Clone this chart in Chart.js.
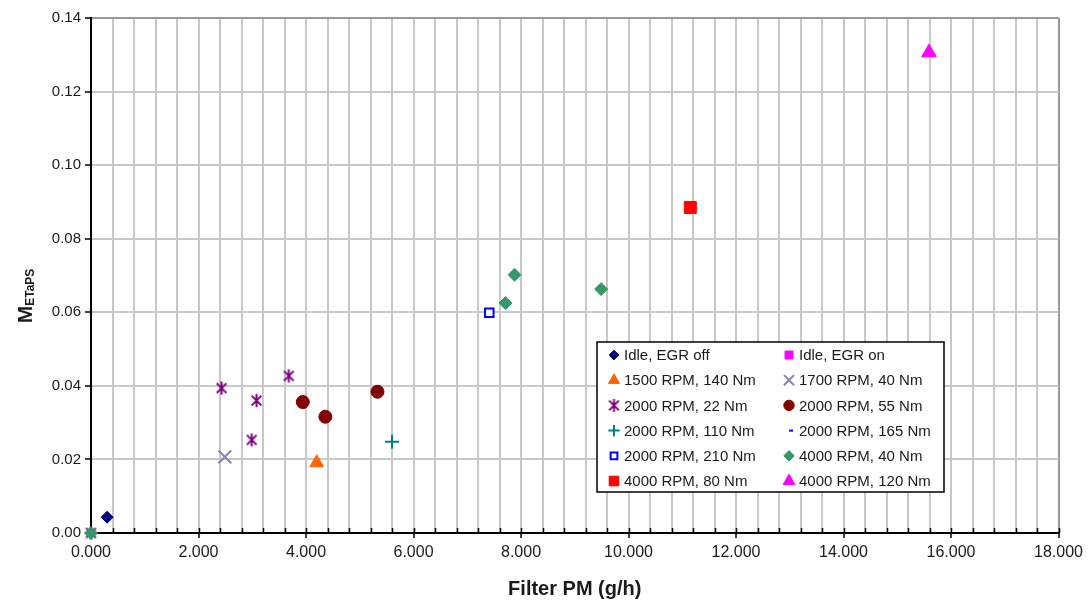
<!DOCTYPE html>
<html>
<head>
<meta charset="utf-8">
<script src="https://cdn.jsdelivr.net/npm/chart.js@4.4.1/dist/chart.umd.min.js"></script>
<style>
  html, body { margin: 0; padding: 0; background: #fff; }
  #wrap { position: relative; width: 1088px; height: 603px; }
</style>
</head>
<body>
<div id="wrap"><canvas id="pmChart" width="1088" height="603"></canvas></div>
<script>
// Filter PM (g/h) against METaPS, one series per operating point
const seriesLabels = [
  'Idle, EGR off', 'Idle, EGR on',
  '1500 RPM, 140 Nm', '1700 RPM, 40 Nm',
  '2000 RPM, 22 Nm', '2000 RPM, 55 Nm',
  '2000 RPM, 110 Nm', '2000 RPM, 165 Nm',
  '2000 RPM, 210 Nm', '4000 RPM, 40 Nm',
  '4000 RPM, 80 Nm', '4000 RPM, 120 Nm'
];

const idleOffPM = [0.30];
const idleOffM = [0.0043];
const idleOnPM = [];
const idleOnM = [];
const rpm1500t140PM = [4.20];
const rpm1500t140M = [0.0191];
const rpm1700t40PM = [2.49];
const rpm1700t40M = [0.0207];
const rpm2000t22PM = [0.00, 2.43, 3.08, 3.68, 2.99];
const rpm2000t22M = [0.0000, 0.0394, 0.0360, 0.0427, 0.0253];
const rpm2000t55PM = [3.94, 4.36, 5.33];
const rpm2000t55M = [0.0356, 0.0316, 0.0384];
const rpm2000t110PM = [5.60];
const rpm2000t110M = [0.0248];
const rpm2000t165PM = [];
const rpm2000t165M = [];
const rpm2000t210PM = [7.41];
const rpm2000t210M = [0.0599];
const rpm4000t40PM = [0.00, 7.71, 7.88, 9.49];
const rpm4000t40M = [0.0000, 0.0625, 0.0702, 0.0663];
const rpm4000t80PM = [11.15];
const rpm4000t80M = [0.0885];
const rpm4000t120PM = [15.59];
const rpm4000t120M = [0.1306];

const xMajorTicks = [0, 2, 4, 6, 8, 10, 12, 14, 16, 18];
const yTicks = [0, 0.02, 0.04, 0.06, 0.08, 0.10, 0.12, 0.14];

const seriesPM = [idleOffPM, idleOnPM, rpm1500t140PM, rpm1700t40PM, rpm2000t22PM, rpm2000t55PM,
  rpm2000t110PM, rpm2000t165PM, rpm2000t210PM, rpm4000t40PM, rpm4000t80PM, rpm4000t120PM];
const seriesM = [idleOffM, idleOnM, rpm1500t140M, rpm1700t40M, rpm2000t22M, rpm2000t55M,
  rpm2000t110M, rpm2000t165M, rpm2000t210M, rpm4000t40M, rpm4000t80M, rpm4000t120M];

const FONT = "'Liberation Sans', Arial, sans-serif";
const TEXT = '#1a1a1a';

// Excel style asterisk: an X with a vertical bar through it
function asteriskMarker(size, color) {
  const c = document.createElement('canvas');
  c.width = c.height = size;
  const g = c.getContext('2d');
  const m = size / 2, r = size / 2 - 1;
  const d = r * 0.75;
  g.strokeStyle = color;
  g.lineWidth = 2;
  g.beginPath();
  g.moveTo(m - d, m - d); g.lineTo(m + d, m + d);
  g.moveTo(m + d, m - d); g.lineTo(m - d, m + d);
  g.moveTo(m, m - r); g.lineTo(m, m + r);
  g.stroke();
  return c;
}

const markerStyles = [
  { pointStyle: 'rectRot', radius: 6, fill: '#000080', stroke: '#000080', borderWidth: 1 },
  { pointStyle: 'rect', radius: 7, fill: '#ff00ff', stroke: '#ff00ff', borderWidth: 1 },
  { pointStyle: 'triangle', radius: 8, fill: '#ff6600', stroke: '#ff6600', borderWidth: 1 },
  { pointStyle: 'crossRot', radius: 9, fill: '#8585b8', stroke: '#8585b8', borderWidth: 2 },
  { pointStyle: asteriskMarker(15, '#800080'), radius: 7, fill: '#800080', stroke: '#800080', borderWidth: 2 },
  { pointStyle: 'circle', radius: 6.5, fill: '#800000', stroke: '#800000', borderWidth: 1 },
  { pointStyle: 'cross', radius: 7, fill: '#008080', stroke: '#008080', borderWidth: 2 },
  { pointStyle: 'dash', radius: 5, fill: '#0000ff', stroke: '#0000ff', borderWidth: 2 },
  { pointStyle: 'rect', radius: 6, fill: '#ffffff', stroke: '#0000ff', borderWidth: 2 },
  { pointStyle: 'rectRot', radius: 6.5, fill: '#339966', stroke: '#339966', borderWidth: 1 },
  { pointStyle: 'rect', radius: 8.5, fill: '#ff0000', stroke: '#ff0000', borderWidth: 1 },
  { pointStyle: 'triangle', radius: 8.5, fill: '#ff00ff', stroke: '#ff00ff', borderWidth: 1 }
];

const datasets = seriesLabels.map((label, i) => {
  const st = markerStyles[i];
  return {
    label,
    data: seriesPM[i].map((x, k) => ({ x, y: seriesM[i][k] })),
    pointStyle: st.pointStyle,
    pointRadius: st.radius,
    backgroundColor: st.fill,
    borderColor: st.stroke,
    borderWidth: st.borderWidth,
    clip: false,
    order: seriesLabels.length - i // later series drawn on top
  };
});

const isMajor = v => xMajorTicks.some(t => Math.abs(t - v) < 1e-6);

// Legend box, y-axis title with subscript, inner minor ticks on the x axis
const decor = {
  id: 'decor',
  beforeDatasetsDraw(chart) {
    const { ctx, chartArea, scales: { x } } = chart;
    ctx.save();
    ctx.strokeStyle = '#000';
    ctx.lineWidth = 1.5;
    ctx.beginPath();
    x.ticks.forEach(t => {
      const px = Math.round(x.getPixelForValue(t.value)) + 0.5;
      ctx.moveTo(px, chartArea.bottom);
      ctx.lineTo(px, chartArea.bottom - 5);
    });
    ctx.stroke();
    ctx.restore();
  },
  afterDatasetsDraw(chart) {
    const ctx = chart.ctx;
    const box = { left: 597, top: 342, width: 347, height: 150 };
    ctx.save();
    ctx.fillStyle = '#fff';
    ctx.fillRect(box.left, box.top, box.width, box.height);
    ctx.strokeStyle = '#000';
    ctx.lineWidth = 1.5;
    ctx.strokeRect(box.left, box.top, box.width, box.height);

    ctx.font = '15px ' + FONT;
    ctx.textBaseline = 'middle';
    ctx.textAlign = 'left';
    seriesLabels.forEach((label, i) => {
      const col = i % 2, row = Math.floor(i / 2);
      const mx = col === 0 ? 614 : 789;
      const my = box.top + 13 + row * 25.2;
      const st = markerStyles[i];
      ctx.fillStyle = st.fill;
      ctx.strokeStyle = st.stroke;
      ctx.lineWidth = st.borderWidth;
      const r = typeof st.pointStyle === 'string' ? st.radius * 0.8 : st.radius;
      Chart.helpers.drawPoint(ctx, {
        pointStyle: st.pointStyle, radius: r, rotation: 0, borderWidth: st.borderWidth
      }, mx, my);
      ctx.fillStyle = TEXT;
      ctx.fillText(label, mx + 10, my + 1);
    });
    ctx.restore();
  },
  afterDraw(chart) {
    const ctx = chart.ctx;
    ctx.save();
    ctx.translate(25, 296);
    ctx.rotate(-Math.PI / 2);
    ctx.fillStyle = TEXT;
    ctx.textBaseline = 'alphabetic';
    ctx.font = 'bold 21px ' + FONT;
    const mW = ctx.measureText('M').width;
    ctx.font = 'bold 12px ' + FONT;
    const subW = ctx.measureText('ETaPS').width;
    const x0 = -(mW + subW) / 2;
    ctx.font = 'bold 21px ' + FONT;
    ctx.fillText('M', x0, 7);
    ctx.font = 'bold 12px ' + FONT;
    ctx.fillText('ETaPS', x0 + mW, 9);
    ctx.restore();
  }
};

new Chart(document.getElementById('pmChart'), {
  type: 'scatter',
  data: { datasets },
  options: {
    responsive: false,
    animation: false,
    layout: { padding: { top: 18, right: 28, left: 0, bottom: 0 } },
    plugins: { legend: { display: false }, tooltip: { enabled: false } },
    scales: {
      x: {
        type: 'linear',
        min: 0,
        max: 18,
        afterFit: s => { s.height = 70; },
        border: { color: '#000', width: 2 },
        grid: {
          color: c => (c.tick && Math.abs(c.tick.value - 18) < 1e-6) ? '#9a9a9a' : '#c8c8c8',
          lineWidth: 2,
          tickLength: 5,
          tickWidth: 1.5,
          tickColor: c => (c.tick && isMajor(c.tick.value)) ? '#000' : 'rgba(0,0,0,0)'
        },
        ticks: {
          stepSize: 0.4,
          maxTicksLimit: 100,
          autoSkip: false,
          minRotation: 0,
          maxRotation: 0,
          padding: 5,
          color: TEXT,
          font: { family: FONT, size: 16 },
          callback: v => isMajor(v) ? v.toFixed(3) : ''
        },
        title: {
          display: true,
          text: 'Filter PM (g/h)',
          color: TEXT,
          font: { family: FONT, size: 20, weight: 'bold' },
          padding: { top: 0, bottom: 2 }
        }
      },
      y: {
        type: 'linear',
        min: yTicks[0],
        max: yTicks[yTicks.length - 1],
        afterFit: s => { s.width = 91; },
        border: { color: '#000', width: 2 },
        grid: {
          color: c => (c.tick && Math.abs(c.tick.value - 0.14) < 1e-6) ? '#9a9a9a' : '#c8c8c8',
          lineWidth: 2,
          tickLength: 6,
          tickWidth: 1.5,
          tickColor: '#000'
        },
        ticks: {
          stepSize: 0.02,
          padding: 4,
          color: TEXT,
          font: { family: FONT, size: 15 },
          callback: v => v.toFixed(2)
        }
      }
    }
  },
  plugins: [decor]
});
</script>
</body>
</html>
